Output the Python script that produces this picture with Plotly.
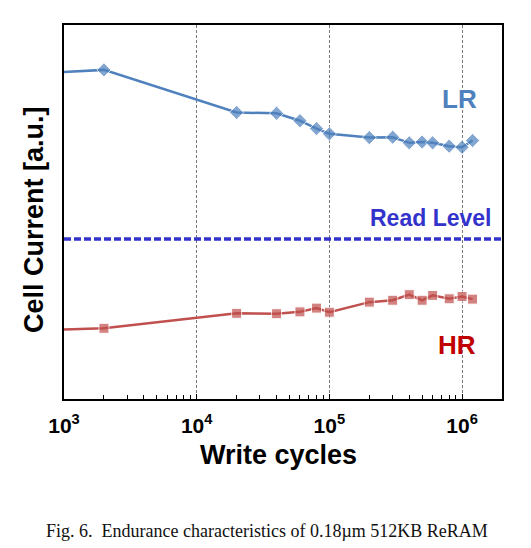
import plotly.graph_objects as go

# Data (arbitrary units)
cycles = [1e3, 2e3, 2e4, 4e4, 6e4, 8e4, 1e5, 2e5, 3e5, 4e5, 5e5, 6e5, 8e5, 1e6, 1.2e6]
lr_current = [87.4, 88.0, 76.6, 76.4, 74.4, 72.3, 70.9, 69.9, 70.0, 68.5, 68.7, 68.5, 67.6, 67.3, 69.1]
hr_current = [18.6, 18.9, 22.9, 22.8, 23.3, 24.3, 23.2, 25.9, 26.4, 27.9, 26.4, 27.7, 26.8, 27.4, 26.7]
read_level_x = [1e3, 2e6]
read_level = [42.8, 42.8]
tick_vals = [1e3, 1e4, 1e5, 1e6]
tick_text = ["<b>10<sup>3</sup></b>", "<b>10<sup>4</sup></b>", "<b>10<sup>5</sup></b>", "<b>10<sup>6</sup></b>"]
minor_tick_vals = [m * d for d in (1e3, 1e4, 1e5) for m in range(2, 10)] + [2e6]

SANS = "Arial, Liberation Sans, sans-serif"
SERIF = "Times New Roman, Liberation Serif, serif"

marker_sizes_lr = [0] + [11] * (len(cycles) - 1)
marker_sizes_hr = [0] + [10] * (len(cycles) - 1)

fig = go.Figure()
fig.add_trace(go.Scatter(
    x=cycles, y=lr_current, mode="lines+markers",
    line=dict(color="#4F81BD", width=2.5),
    marker=dict(symbol="diamond", size=marker_sizes_lr, color="#4F81BD"),
    showlegend=False))
fig.add_trace(go.Scatter(
    x=cycles, y=hr_current, mode="lines+markers",
    line=dict(color="#C0504D", width=2.5),
    marker=dict(symbol="square", size=marker_sizes_hr, color="#C0504D"),
    showlegend=False))
fig.add_trace(go.Scatter(
    x=read_level_x, y=read_level, mode="lines",
    line=dict(color="#3333CC", width=3.5, dash="7px,3px"),
    showlegend=False))

fig.update_layout(
    width=531, height=548,
    margin=dict(l=64, r=29, t=25, b=149),
    paper_bgcolor="white", plot_bgcolor="white",
    font=dict(family=SANS, color="black"),
    xaxis=dict(
        type="log", range=[3, 6.301],
        showline=True, mirror=True, linecolor="black", linewidth=2,
        showgrid=True, gridcolor="#777777", gridwidth=1, griddash="3px,2px",
        tickmode="array", tickvals=tick_vals, ticktext=tick_text,
        ticks="inside", ticklen=5, tickcolor="black",
        ticklabelstandoff=7,
        tickfont=dict(size=21, family=SANS, color="black"),
        minor=dict(tickmode="array", tickvals=minor_tick_vals, ticks="inside",
                   ticklen=4, tickcolor="black", showgrid=False),
        zeroline=False, automargin=False,
    ),
    yaxis=dict(
        range=[0, 100],
        showline=True, mirror=True, linecolor="black", linewidth=2,
        showgrid=False, showticklabels=False, ticks="", zeroline=False,
        automargin=False,
    ),
    annotations=[
        dict(text="<b>Write cycles</b>", xref="paper", yref="paper",
             x=(278 - 64) / 438, y=(399 - 455) / 374, xanchor="center", yanchor="middle",
             showarrow=False, font=dict(size=27, family=SANS, color="black")),
        dict(text="<b>Cell Current [a.u.]</b>", xref="paper", yref="paper",
             x=(34 - 64) / 438, y=(399 - 220) / 374, xanchor="center", yanchor="middle",
             textangle=-90, showarrow=False, font=dict(size=27, family=SANS, color="black")),
        dict(text="<b>LR</b>", xref="paper", yref="paper",
             x=(459 - 64) / 438, y=(399 - 99) / 374, xanchor="center", yanchor="middle",
             showarrow=False, font=dict(size=26, family=SANS, color="#4F81BD")),
        dict(text="<b>Read Level</b>", xref="paper", yref="paper",
             x=(430 - 64) / 438, y=(399 - 218) / 374, xanchor="center", yanchor="middle",
             showarrow=False, font=dict(size=23, family=SANS, color="#3333CC")),
        dict(text="<b>HR</b>", xref="paper", yref="paper",
             x=(457 - 64) / 438, y=(399 - 345) / 374, xanchor="center", yanchor="middle",
             showarrow=False, font=dict(size=26, family=SANS, color="#C00000")),
        dict(text="Fig. 6.  Endurance characteristics of 0.18µm 512KB ReRAM", xref="paper", yref="paper",
             x=(267 - 64) / 438, y=(399 - 531) / 374, xanchor="center", yanchor="middle",
             showarrow=False, font=dict(size=18, family=SERIF, color="#111111")),
    ],
)

post = ("document.body.style.margin='0';document.body.style.padding='0';"
        "document.body.style.overflow='hidden';"
        "Plotly.relayout('{plot_id}', {width: 531, height: 548});")
fig.write_html("out.html", config={"responsive": False, "displayModeBar": False}, post_script=post)
